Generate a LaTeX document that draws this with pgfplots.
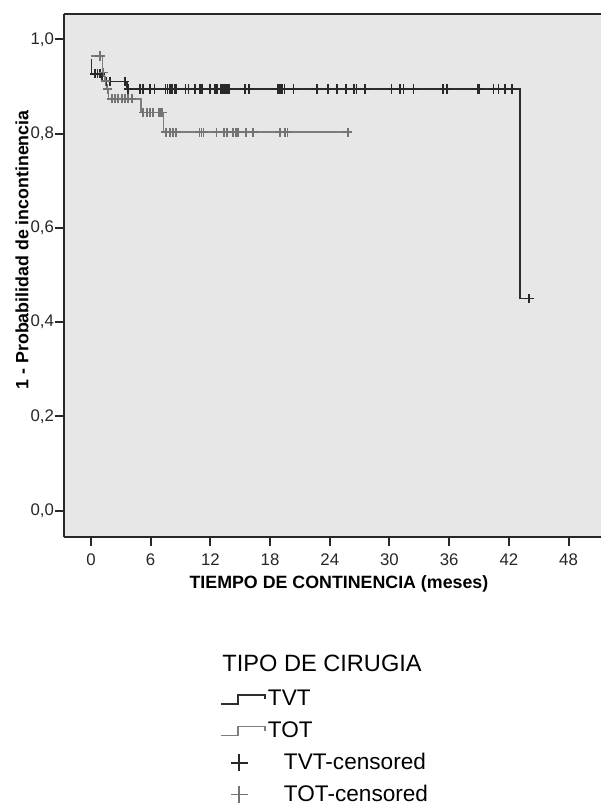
\documentclass[border=0pt]{standalone}
\usepackage{pgfplots}
\pgfplotsset{compat=1.18}
\usepackage{fontspec}
\setmainfont{Liberation Sans}
\definecolor{bgc}{RGB}{231,231,231}
\definecolor{axc}{RGB}{40,40,40}
\definecolor{tvtc}{RGB}{45,45,45}
\definecolor{totc}{RGB}{125,125,125}
\definecolor{tvtm}{RGB}{40,40,40}
\definecolor{totm}{RGB}{115,115,115}
\pgfplotsset{
  steplegend/.style={legend image code/.code={\draw[##1] (0pt,-2.25pt) -- (8.5pt,-2.25pt) -- (8.5pt,2.25pt) -- (22pt,2.25pt) -- (22pt,0pt);}},
  crosslegend/.style={legend image code/.code={\draw[##1, mark size=4.2pt] plot coordinates {(9pt,0pt)};}}
}
\begin{document}
\begin{tikzpicture}
\useasboundingbox (0,0) rectangle (300.5pt,405pt);
\begin{axis}[
  at={(32pt,136.5pt)}, anchor=south west,
  scale only axis, width=268.5pt, height=261.5pt,
  xmin=-2.71, xmax=51.26, ymin=-0.0558, ymax=1.054,
  axis x line=box, axis y line=left,
  axis line style={-, axc, line width=1pt},
  axis background/.style={fill=bgc},
  xtick={0,6,...,48}, ytick={0,0.2,...,1.0},
  xtick pos=bottom, ytick pos=left,
  tick align=outside, major tick length=4.5pt,
  tick style={axc, line width=1pt},
  /pgf/number format/assume math mode=true,
  tick label style={font=\fontsize{8.4}{10}\selectfont, text=black!85},
  yticklabel={\pgfmathprintnumber[fixed,fixed zerofill,precision=1,use comma]{\tick}},
  yticklabel style={xshift=3pt},
  xticklabel style={yshift=-0.5pt},
  xlabel={TIEMPO DE CONTINENCIA (meses)},
  ylabel={1 - Probabilidad de incontinencia},
  label style={font=\bfseries\fontsize{8.9}{10}\selectfont},
  xlabel style={at={(axis description cs:0.512,-0.09)}, anchor=center},
  ylabel style={at={(axis description cs:-0.078,0.549)}, anchor=center},
  legend style={at={(axis description cs:0.2905,-0.279)}, anchor=north west,
    draw=none, fill=none, inner sep=0pt, row sep=0pt,
    font=\fontsize{11.3}{13}\selectfont,
    nodes={inner xsep=0pt, inner ysep=0pt, minimum height=15.9pt},
    /tikz/every odd column/.append style={column sep=1pt}},
  legend cell align=left,
]
% TVT survival curve
\addplot[const plot, tvtc, line width=0.8pt, steplegend]
  coordinates {(0,0.957) (0.05,0.927) (1.1,0.911) (3.6,0.895) (43.1,0.45) (44.05,0.45)};
\addlegendentry{TVT}
% TOT survival curve
\addplot[const plot, totc, line width=0.8pt, steplegend]
  coordinates {(0,0.965) (1.15,0.93) (1.35,0.912) (1.55,0.895) (1.75,0.874) (5.0,0.845) (7.3,0.803) (25.8,0.803)};
\addlegendentry{TOT}
% TVT censored
\addplot[only marks, mark=+, mark size=2.3pt, tvtm, mark options={line width=0.85pt}, crosslegend]
  coordinates {
  (0.4,0.927) (0.65,0.927) (0.9,0.927)
  (1.5,0.911) (1.9,0.911) (3.4,0.911)
  (3.75,0.895) (4.9,0.895) (5.2,0.895) (5.9,0.895) (6.4,0.895) (7.5,0.895) (7.7,0.895) (7.9,0.895)
  (8.05,0.895) (8.2,0.895) (8.4,0.895) (8.55,0.895) (9.5,0.895) (9.8,0.895) (10.45,0.895) (10.9,0.895)
  (11.05,0.895) (11.2,0.895) (11.95,0.895) (12.5,0.895) (12.65,0.895) (13.1,0.895) (13.3,0.895)
  (13.5,0.895) (13.7,0.895) (13.85,0.895) (15.5,0.895) (15.9,0.895) (18.8,0.895) (19.0,0.895)
  (19.2,0.895) (19.45,0.895) (20.35,0.895) (22.7,0.895) (23.85,0.895) (24.7,0.895) (25.6,0.895)
  (26.4,0.895) (26.7,0.895) (27.55,0.895) (30.2,0.895) (31.05,0.895) (31.4,0.895) (32.4,0.895)
  (35.4,0.895) (35.75,0.895) (38.9,0.895) (39.05,0.895) (40.45,0.895) (40.95,0.895) (41.6,0.895)
  (42.3,0.895) (44.05,0.45)};
\addlegendentry{\hspace{8pt}TVT-censored}
% TOT censored
\addplot[only marks, mark=+, mark size=2.3pt, totm, mark options={line width=0.85pt}, crosslegend]
  coordinates {
  (0.9,0.965) (1.25,0.93) (1.45,0.912) (1.65,0.895)
  (2.1,0.874) (2.4,0.874) (2.75,0.874) (3.1,0.874) (3.4,0.874) (3.75,0.874) (4.1,0.874)
  (5.25,0.845) (5.6,0.845) (5.93,0.845) (6.26,0.845) (6.8,0.845) (6.95,0.845) (7.15,0.845)
  (7.55,0.803) (7.95,0.803) (8.25,0.803) (8.55,0.803) (10.9,0.803) (11.1,0.803) (11.3,0.803)
  (12.63,0.803) (13.4,0.803) (13.7,0.803) (14.3,0.803) (14.6,0.803) (14.8,0.803) (15.55,0.803)
  (16.3,0.803) (19.0,0.803) (19.5,0.803) (19.75,0.803) (25.8,0.803)};
\addlegendentry{\hspace{8pt}TOT-censored}
\end{axis}
\node[anchor=west, inner sep=0pt, font=\fontsize{11.8}{13}\selectfont] at (111pt,73.5pt) {TIPO DE CIRUGIA};
\end{tikzpicture}
\end{document}
